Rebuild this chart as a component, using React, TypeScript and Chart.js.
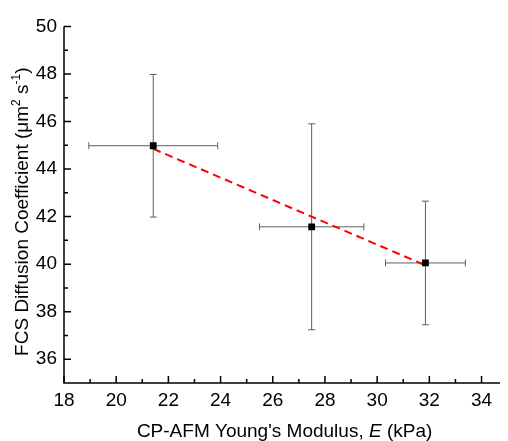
import React, { useEffect, useRef } from "react";
import { Chart, registerables } from "chart.js";

Chart.register(...registerables);

// Data
const xValues = [21.42, 27.49, 31.85];
const yValues = [44.98, 41.57, 40.05];
const xErrors = [2.47, 2.0, 1.53];
const yErrors = [3.0, 4.33, 2.6];

// Linear fit line endpoints
const fitX = [21.42, 31.85];
const fitY = [44.85, 39.95];

// Axes
const xMin = 18;
const xMax = 34.83;
const yMin = 35;
const yMax = 50;
const xTickValues = [18, 20, 22, 24, 26, 28, 30, 32, 34];
const xMinorTickValues = [19, 21, 23, 25, 27, 29, 31, 33];
const yTickValues = [36, 38, 40, 42, 44, 46, 48, 50];
const yMinorTickValues = [37, 39, 41, 43, 45, 47, 49];

// Titles (parts: [text, style]) — style: n = normal, i = italic, s = superscript
const xTitleParts: [string, string][] = [
  ["CP-AFM Young's Modulus, ", "n"],
  ["E", "i"],
  [" (kPa)", "n"],
];
const yTitleParts: [string, string][] = [
  ["FCS Diffusion Coefficient (\u03BCm", "n"],
  ["2", "s"],
  [" s", "n"],
  ["-1", "s"],
  [")", "n"],
];

const FONT = "'Liberation Sans', Arial, sans-serif";
const TITLE_SIZE = 19;
const TICK_SIZE = 19;

function fontFor(style: string) {
  if (style === "i") return `italic ${TITLE_SIZE}px ${FONT}`;
  if (style === "s") return `${Math.round(TITLE_SIZE * 0.62)}px ${FONT}`;
  return `${TITLE_SIZE}px ${FONT}`;
}

function drawParts(ctx: any, parts: [string, string][], cx: number, baseY: number) {
  const widths = parts.map(([t, s]) => {
    ctx.font = fontFor(s);
    return ctx.measureText(t).width;
  });
  const total = widths.reduce((a, b) => a + b, 0);
  let x = cx - total / 2;
  ctx.textAlign = "left";
  ctx.textBaseline = "alphabetic";
  parts.forEach(([t, s], i) => {
    ctx.font = fontFor(s);
    ctx.fillText(t, x, s === "s" ? baseY - TITLE_SIZE * 0.42 : baseY);
    x += widths[i];
  });
}

const errorBarPlugin = {
  id: "errorBars",
  beforeDatasetsDraw(chart: any) {
    const { ctx, scales } = chart;
    const x = scales.x;
    const y = scales.y;
    ctx.save();
    ctx.strokeStyle = "#5f5f5f";
    ctx.lineWidth = 1;
    const cap = 3.5;
    for (let i = 0; i < xValues.length; i++) {
      const px = x.getPixelForValue(xValues[i]);
      const py = y.getPixelForValue(yValues[i]);
      const xl = x.getPixelForValue(xValues[i] - xErrors[i]);
      const xr = x.getPixelForValue(xValues[i] + xErrors[i]);
      const yt = y.getPixelForValue(yValues[i] + yErrors[i]);
      const yb = y.getPixelForValue(yValues[i] - yErrors[i]);
      ctx.beginPath();
      ctx.moveTo(xl, py);
      ctx.lineTo(xr, py);
      ctx.moveTo(xl, py - cap);
      ctx.lineTo(xl, py + cap);
      ctx.moveTo(xr, py - cap);
      ctx.lineTo(xr, py + cap);
      ctx.moveTo(px, yt);
      ctx.lineTo(px, yb);
      ctx.moveTo(px - cap, yt);
      ctx.lineTo(px + cap, yt);
      ctx.moveTo(px - cap, yb);
      ctx.lineTo(px + cap, yb);
      ctx.stroke();
    }
    ctx.restore();
  },
};

const axesPlugin = {
  id: "customAxes",
  afterDraw(chart: any) {
    const { ctx, chartArea, scales } = chart;
    const { left, right, top, bottom } = chartArea;
    const x = scales.x;
    const y = scales.y;
    ctx.save();
    ctx.strokeStyle = "#000";
    ctx.lineWidth = 1.5;
    ctx.beginPath();
    ctx.moveTo(left, top);
    ctx.lineTo(left, bottom);
    ctx.lineTo(right, bottom);
    ctx.stroke();
    ctx.beginPath();
    for (const v of xTickValues) {
      const px = x.getPixelForValue(v);
      ctx.moveTo(px, bottom);
      ctx.lineTo(px, bottom - 7);
    }
    for (const v of xMinorTickValues) {
      const px = x.getPixelForValue(v);
      ctx.moveTo(px, bottom);
      ctx.lineTo(px, bottom - 4);
    }
    for (const v of yTickValues) {
      const py = y.getPixelForValue(v);
      ctx.moveTo(left, py);
      ctx.lineTo(left + 7, py);
    }
    for (const v of yMinorTickValues) {
      const py = y.getPixelForValue(v);
      ctx.moveTo(left, py);
      ctx.lineTo(left + 4, py);
    }
    ctx.stroke();

    ctx.fillStyle = "#000";
    // X title with italic E
    drawParts(ctx, xTitleParts, (left + right) / 2 + 1, 429);

    // Y title (rotated)
    ctx.save();
    ctx.translate(20, (top + bottom) / 2 + 7);
    ctx.rotate(-Math.PI / 2);
    drawParts(ctx, yTitleParts, 0, 0);
    ctx.restore();
    ctx.restore();
  },
};

export default function App() {
  const canvasRef = useRef<HTMLCanvasElement | null>(null);

  useEffect(() => {
    if (!canvasRef.current) return;
    const points = xValues.map((v, i) => ({ x: v, y: yValues[i] }));
    const fitPoints = fitX.map((v, i) => ({ x: v, y: fitY[i] }));
    const chart = new Chart(canvasRef.current, {
      type: "scatter",
      data: {
        datasets: [
          {
            type: "line",
            data: fitPoints,
            borderColor: "#ff0000",
            borderWidth: 2,
            borderDash: [8, 5],
            pointRadius: 0,
            fill: false,
            order: 2,
          } as any,
          {
            data: points,
            pointStyle: "rect",
            pointRadius: 4.8,
            backgroundColor: "#000",
            borderColor: "#000",
            borderWidth: 0,
            order: 1,
          },
        ],
      },
      options: {
        responsive: false,
        animation: false,
        layout: { padding: { top: 14, right: 0, left: 0, bottom: 0 } },
        plugins: {
          legend: { display: false },
          tooltip: { enabled: false },
        },
        scales: {
          x: {
            type: "linear",
            min: xMin,
            max: xMax,
            grid: { display: false, drawTicks: false },
            border: { display: false },
            afterBuildTicks: (scale: any) => {
              scale.ticks = xTickValues.map((v) => ({ value: v }));
            },
            afterFit: (scale: any) => {
              scale.height = 58;
            },
            ticks: {
              autoSkip: false,
              maxRotation: 0,
              padding: 6,
              color: "#000",
              font: { family: FONT, size: TICK_SIZE },
            },
          },
          y: {
            type: "linear",
            min: yMin,
            max: yMax,
            grid: { display: false, drawTicks: false },
            border: { display: false },
            afterBuildTicks: (scale: any) => {
              scale.ticks = yTickValues.map((v) => ({ value: v }));
            },
            afterFit: (scale: any) => {
              scale.width = 56;
            },
            ticks: {
              autoSkip: false,
              padding: 7,
              color: "#000",
              font: { family: FONT, size: TICK_SIZE },
            },
          },
        },
      },
      plugins: [errorBarPlugin, axesPlugin],
    });
    return () => chart.destroy();
  }, []);

  return (
    <canvas
      ref={canvasRef}
      width={500}
      height={433}
      style={{ display: "block", width: 500, height: 433 }}
    />
  );
}
